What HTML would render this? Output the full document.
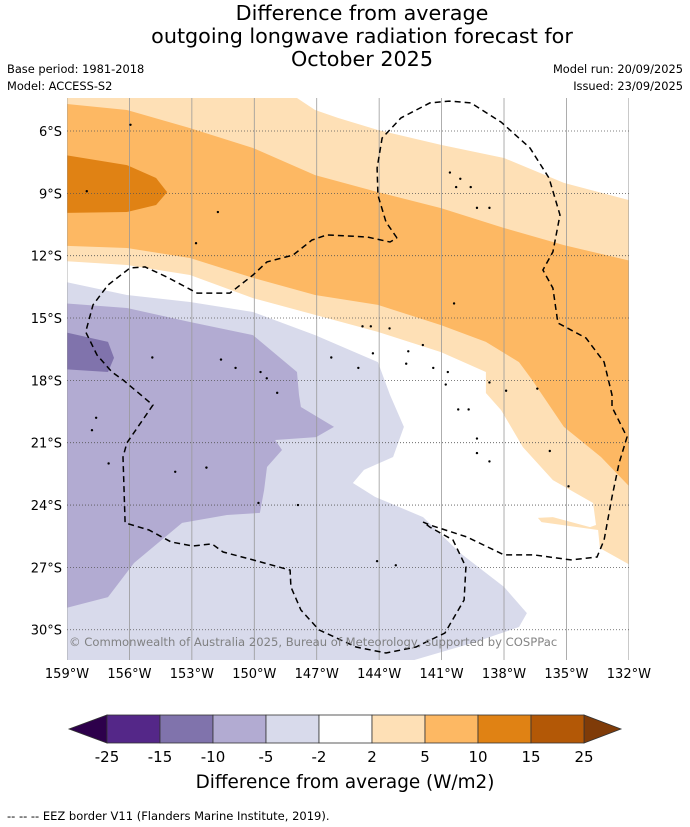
<!DOCTYPE html>
<html><head><meta charset="utf-8"><style>
body{margin:0;background:#fff;}
svg{display:block;font-family:"DejaVu Sans","Liberation Sans",sans-serif;}
</style></head><body>
<svg id="chart" width="690" height="827" viewBox="0 0 690 827">
<g font-size="20.7" text-anchor="middle" fill="#000">
<text x="362" y="20">Difference from average</text>
<text x="362" y="43">outgoing longwave radiation forecast for</text>
<text x="362" y="66">October 2025</text>
</g>
<text x="7" y="73" font-size="11.4">Base period: 1981-2018</text>
<text x="7" y="90" font-size="11.4">Model: ACCESS-S2</text>
<text x="683" y="73" font-size="11.4" text-anchor="end">Model run: 20/09/2025</text>
<text x="683" y="90" font-size="11.4" text-anchor="end">Issued: 23/09/2025</text>
<defs><clipPath id="mapclip"><rect x="67" y="98" width="562" height="562"/></clipPath></defs>
<g id="map" clip-path="url(#mapclip)"></g>
<g id="axes"></g>
<g id="cbar"></g>
<text x="345" y="788" font-size="18.4" text-anchor="middle">Difference from average (W/m2)</text>
<text x="7" y="820" font-size="11.5">--  --  -- EEZ border V11 (Flanders Marine Institute, 2019).</text>
</svg>
<script>
const lonTicks=[-159,-156,-153,-150,-147,-144,-141,-138,-135,-132];
const latTicks=[6,9,12,15,18,21,24,27,30];
const levels=[-25,-15,-10,-5,-2,2,5,10,15,25];
const levelColors=["#542788","#8073ac","#b2abd2","#d8daeb","#ffffff","#fee0b6","#fdb863","#e08214","#b35806"];
const lightOrange=[[-160,4.0],[-147.95,4.0],[-147.95,4.41],[-147.08,4.99],[-145.98,5.37],[-144.06,5.95],[-141.03,6.67],[-138.0,7.3],[-135.12,8.5],[-131.5,9.46],[-131.5,27.13],[-133.39,26.07],[-133.48,25.2],[-136.2,24.82],[-136.37,24.62],[-135.65,24.58],[-133.87,25.06],[-133.58,24.96],[-133.72,23.9],[-135.65,22.8],[-137.09,21.21],[-138.14,19.43],[-138.87,18.61],[-138.87,17.6],[-141.03,16.64],[-144.06,15.67],[-147.08,14.85],[-150.06,14.04],[-153.09,12.93],[-156.12,12.45],[-160,12.21]];
const midOrange=[[-160,4.6],[-156.12,4.99],[-153.09,5.86],[-150.06,6.82],[-147.08,8.12],[-144.06,8.94],[-141.03,9.71],[-138.0,10.67],[-135.12,11.49],[-131.5,12.35],[-131.5,23.61],[-133.34,21.69],[-135.12,20.24],[-136.65,17.98],[-137.28,17.12],[-138.87,16.15],[-141.03,15.34],[-144.06,14.37],[-147.08,13.89],[-150.06,13.07],[-153.09,12.11],[-156.12,11.63],[-160,11.49]];
const darkOrange=[[-160,7.01],[-156.12,7.64],[-154.72,8.26],[-154.19,8.94],[-154.72,9.56],[-156.12,9.9],[-160,9.95]];
const lightPurple=[[-160,13.07],[-156.12,13.89],[-153.09,14.23],[-150.06,14.71],[-147.08,15.82],[-144.06,17.12],[-143.48,18.7],[-142.81,20.24],[-143.33,21.69],[-144.73,22.31],[-145.26,22.94],[-144.2,23.61],[-141.89,24.58],[-140.11,26.31],[-138.0,27.94],[-136.9,29.2],[-137.28,29.87],[-139.4,30.6],[-142.8,31.6],[-160,31.6]];
const midPurple=[[-160,14.23],[-156.12,14.52],[-153.09,15.19],[-150.06,15.82],[-147.95,17.6],[-147.85,18.7],[-147.76,19.28],[-146.17,20.24],[-147.03,20.73],[-149.0,20.87],[-148.67,21.35],[-149.39,22.17],[-149.53,23.28],[-149.73,24.38],[-151.31,24.48],[-153.47,24.86],[-155.78,26.79],[-157.03,28.43],[-160,29.2]];
const darkPurple=[[-160,15.48],[-157.03,16.15],[-156.74,16.92],[-157.03,17.6],[-160,17.41]];
const eez=[[-143.14,11.15],[-143.67,10.38],[-144.06,9.08],[-144.1,7.78],[-143.86,6.34],[-142.95,5.37],[-141.56,4.65],[-140.64,4.56],[-139.59,4.65],[-138.14,5.57],[-136.75,6.82],[-135.84,8.26],[-135.31,10.04],[-135.65,11.82],[-136.13,12.69],[-135.65,13.56],[-135.41,15.24],[-134.06,15.96],[-133.19,17.12],[-132.81,18.7],[-132.81,19.28],[-132.09,20.73],[-132.47,21.98],[-132.81,23.61],[-133.19,25.68],[-133.53,26.5],[-134.78,26.64],[-136.56,26.4],[-138.0,26.4],[-139.78,25.54],[-141.56,24.96],[-141.89,24.82],[-141.56,25.06],[-140.45,25.68],[-139.83,26.98],[-139.92,28.57],[-140.84,30.16],[-142.23,30.83],[-143.67,31.12],[-145.11,30.83],[-146.89,30.01],[-147.76,29.05],[-148.24,27.94],[-148.28,27.13],[-150.06,26.64],[-151.5,26.26],[-152.03,25.87],[-152.95,25.97],[-154.0,25.78],[-155.06,25.2],[-156.21,24.86],[-156.31,21.69],[-156.12,21.01],[-154.87,19.19],[-156.31,17.98],[-156.84,17.6],[-157.56,16.78],[-158.1,15.67],[-157.75,14.37],[-157.03,13.41],[-155.97,12.59],[-155.25,12.54],[-154.19,13.03],[-152.75,13.8],[-151.17,13.8],[-150.06,12.93],[-149.39,12.3],[-148.14,11.97],[-147.23,11.25],[-146.51,11.0],[-144.58,11.1],[-143.48,11.34],[-143.14,11.15]];
const islands=[[-158.05,8.9],[-155.95,5.7],[-151.75,9.9],[-152.8,11.4],[-140.6,8.0],[-140.3,8.7],[-139.6,8.7],[-139.3,9.7],[-140.1,8.3],[-138.7,9.7],[-140.4,14.3],[-144.8,15.4],[-144.4,15.4],[-143.5,15.5],[-141.9,16.3],[-141.4,17.4],[-144.3,16.7],[-142.7,17.2],[-146.3,16.9],[-145.0,17.4],[-142.6,16.6],[-140.7,17.6],[-140.8,18.2],[-139.7,19.4],[-140.2,19.4],[-138.7,18.1],[-136.4,18.4],[-137.9,18.5],[-139.3,20.8],[-139.3,21.5],[-138.7,21.9],[-135.8,21.4],[-134.9,23.1],[-148.9,18.6],[-149.4,17.9],[-151.6,17.0],[-150.9,17.4],[-149.7,17.6],[-154.9,16.9],[-157.8,20.4],[-157.0,22.0],[-153.8,22.4],[-152.3,22.2],[-149.8,23.9],[-147.9,24.0],[-144.1,26.7],[-143.2,26.9],[-157.6,19.8]];
const NS="http://www.w3.org/2000/svg";
const x=lon=>67+(lon+159)*20.81;
const y=lat=>131+(lat-6)*20.78;
function mk(t,a,p){const e=document.createElementNS(NS,t);for(const k in a)e.setAttribute(k,a[k]);p.appendChild(e);return e;}
const map=document.getElementById('map'),axes=document.getElementById('axes'),cb=document.getElementById('cbar');
mk('rect',{x:67,y:98,width:562,height:562,fill:'#fff'},map);
function poly(pts,fill,name){const p=mk('polygon',{points:pts.map(q=>x(q[0]).toFixed(1)+','+y(q[1]).toFixed(1)).join(' '),fill:fill,stroke:'none'},map);

}
poly(lightOrange,levelColors[5],'contour-2-to-5');
poly(midOrange,levelColors[6],'contour-5-to-10');
poly(darkOrange,levelColors[7],'contour-10-to-15');
poly(lightPurple,levelColors[3],'contour-minus5-to-minus2');
poly(midPurple,levelColors[2],'contour-minus10-to-minus5');
poly(darkPurple,levelColors[1],'contour-minus15-to-minus10');
lonTicks.forEach(l=>{const g=mk('line',{x1:x(l),x2:x(l),y1:98,y2:660,stroke:'#999','stroke-width':0.8},map);

});
latTicks.forEach(l=>{const g=mk('line',{x1:67,x2:629,y1:y(l),y2:y(l),stroke:'#555','stroke-width':0.8,'stroke-dasharray':'1,2'},map);

});
islands.forEach(q=>{const c=mk('circle',{cx:x(q[0]),cy:y(q[1]),r:1.2,fill:'#000'},map);

});
const ez=mk('polyline',{points:eez.map(q=>x(q[0]).toFixed(1)+','+y(q[1]).toFixed(1)).join(' '),fill:'none',stroke:'#000','stroke-width':1.5,'stroke-dasharray':'6,4'},map);


const cp=mk('text',{x:69,y:646,'font-size':11.6,fill:'#777','fill-opacity':0.9},map);cp.textContent='© Commonwealth of Australia 2025, Bureau of Meteorology, supported by COSPPac';


lonTicks.forEach(l=>{const t=mk('text',{x:x(l),y:678,'font-size':13,'text-anchor':'middle'},axes);t.textContent=Math.abs(l)+'°W';

});
latTicks.forEach(l=>{const t=mk('text',{x:62,y:y(l)+5,'font-size':13,'text-anchor':'end'},axes);t.textContent=l+'°S';

});
// colorbar
const cx0=107,cw=53,cy0=715,ch=28;
const lt=mk('polygon',{points:`${cx0},${cy0} ${cx0},${cy0+ch} 69,${cy0+ch/2}`,fill:'#2d004b',stroke:'#333','stroke-width':0.8},cb);


const n=levelColors.length;
const rt=mk('polygon',{points:`${cx0+n*cw},${cy0} ${cx0+n*cw},${cy0+ch} 621,${cy0+ch/2}`,fill:'#7f3b08',stroke:'#333','stroke-width':0.8},cb);


levelColors.forEach((c,i)=>{const r=mk('rect',{x:cx0+i*cw,y:cy0,width:cw,height:ch,fill:c,stroke:'#333','stroke-width':0.8},cb);

});
levels.forEach((v,i)=>{const t=mk('text',{x:cx0+i*cw,y:762,'font-size':15,'text-anchor':'middle'},cb);t.textContent=v;

});
</script>
</body></html>
